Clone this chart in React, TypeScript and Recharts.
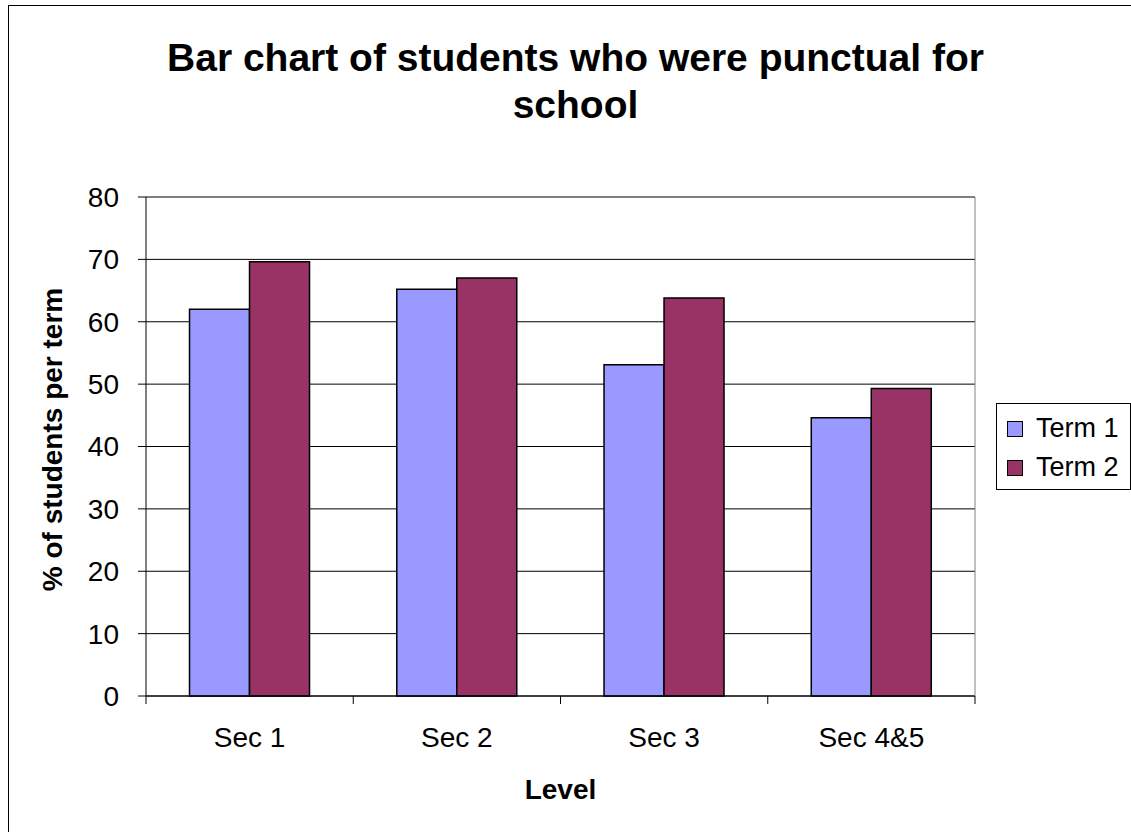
// Punctuality per school level, two terms side by side, Excel-style frame.
import { Bar, BarChart, CartesianGrid, XAxis, YAxis } from "recharts";

const levels = ["Sec 1", "Sec 2", "Sec 3", "Sec 4&5"];
const term1 = [62, 65.2, 53.1, 44.6];
const term2 = [69.6, 67, 63.8, 49.3];
const yTicks = [0, 10, 20, 30, 40, 50, 60, 70, 80];
const titleLines = ["Bar chart of students who were punctual for", "school"];

const series = [
  { key: "term1", name: "Term 1", color: "#9999ff" },
  { key: "term2", name: "Term 2", color: "#993366" },
];

const W = 1131;
const H = 832;
const FONT = "Arial, 'Liberation Sans', sans-serif";
const M = { top: 197, right: 155, bottom: 135, left: 0 };
const Y_AXIS_W = 146;
const BAND_HALF = (W - M.left - Y_AXIS_W - M.right - 1) / levels.length / 2;
const X_TICK_GAP = 31;

// category label plus Excel's between-category tick marks
function LevelTick(props: any) {
  const { x, y, payload, index } = props;
  const top = y - X_TICK_GAP;
  return (
    <g>
      <line x1={x - BAND_HALF} x2={x - BAND_HALF} y1={top} y2={top + 8} stroke="#000" />
      {index === levels.length - 1 && (
        <line x1={x + BAND_HALF} x2={x + BAND_HALF} y1={top} y2={top + 8} stroke="#000" />
      )}
      <text
        x={x}
        y={y}
        dy="0.71em"
        textAnchor="middle"
        fontSize={28}
        fontFamily={FONT}
        fill="#000"
      >
        {payload.value}
      </text>
    </g>
  );
}

export default function App() {
  const data = levels.map((level, i) => ({
    level,
    term1: term1[i],
    term2: term2[i],
  }));

  return (
    <div
      style={{
        position: "absolute",
        left: 0,
        top: 0,
        width: W,
        height: H,
        overflow: "hidden",
        background: "#fff",
        fontFamily: FONT,
      }}
    >
      <div
        style={{
          position: "absolute",
          left: 8,
          top: 5,
          width: W + 20,
          height: H + 20,
          border: "1.5px solid #000",
          boxSizing: "border-box",
        }}
      />
      <svg width={W} height={140} style={{ position: "absolute", left: 0, top: 0 }}>
        {titleLines.map((line, i) => (
          <text
            key={i}
            x={575.5}
            y={71 + i * 47}
            textAnchor="middle"
            fontFamily={FONT}
            fontWeight="bold"
            fontSize={39}
            fill="#000"
          >
            {line}
          </text>
        ))}
      </svg>

      <div style={{ position: "absolute", left: 0, top: 0 }}>
        <BarChart
          width={W}
          height={H}
          data={data}
          margin={M}
          barCategoryGap="21%"
          barGap={0}
        >
          <CartesianGrid stroke="#000" vertical={false} />
          <XAxis
            dataKey="level"
            height={1}
            tickLine={false}
            tickSize={0}
            axisLine={{ stroke: "#000" }}
            tick={<LevelTick />}
            tickMargin={X_TICK_GAP}
            interval={0}
            label={{
              content: ({ viewBox }: any) => (
                <text
                  x={viewBox.x + viewBox.width / 2}
                  y={799}
                  textAnchor="middle"
                  fontSize={28}
                  fontWeight="bold"
                  fontFamily={FONT}
                  fill="#000"
                >
                  Level
                </text>
              ),
            }}
          />
          <YAxis
            domain={[0, 80]}
            ticks={yTicks}
            width={Y_AXIS_W}
            tickSize={8}
            tickMargin={19}
            tickLine={{ stroke: "#000" }}
            axisLine={{ stroke: "#000" }}
            tick={{ fill: "#000", fontSize: 28, fontFamily: FONT }}
            label={{
              content: ({ viewBox }: any) => (
                <text
                  x={0}
                  y={0}
                  transform={`translate(62, ${viewBox.y + viewBox.height / 2 - 7}) rotate(-90)`}
                  textAnchor="middle"
                  fontSize={28}
                  fontWeight="bold"
                  fontFamily={FONT}
                  fill="#000"
                >
                  % of students per term
                </text>
              ),
            }}
          />
          <YAxis
            yAxisId="right"
            orientation="right"
            domain={[0, 80]}
            width={1}
            tick={false}
            tickLine={false}
            axisLine={{ stroke: "#808080" }}
          />
          {series.map(s => (
            <Bar
              key={s.key}
              dataKey={s.key}
              name={s.name}
              fill={s.color}
              stroke="#000"
              strokeWidth={1.5}
              isAnimationActive={false}
            />
          ))}
        </BarChart>
      </div>

      <div
        style={{
          position: "absolute",
          left: 996,
          top: 403,
          width: 135,
          height: 87,
          border: "1.5px solid #000",
          boxSizing: "border-box",
          paddingTop: 5,
          paddingLeft: 10,
          background: "#fff",
        }}
      >
        {series.map(s => (
          <div
            key={s.key}
            style={{ display: "flex", alignItems: "center", height: 39, fontSize: 27 }}
          >
            <span
              style={{
                display: "inline-block",
                width: 14,
                height: 14,
                background: s.color,
                border: "1px solid #000",
                marginRight: 13,
              }}
            />
            {s.name}
          </div>
        ))}
      </div>
    </div>
  );
}
